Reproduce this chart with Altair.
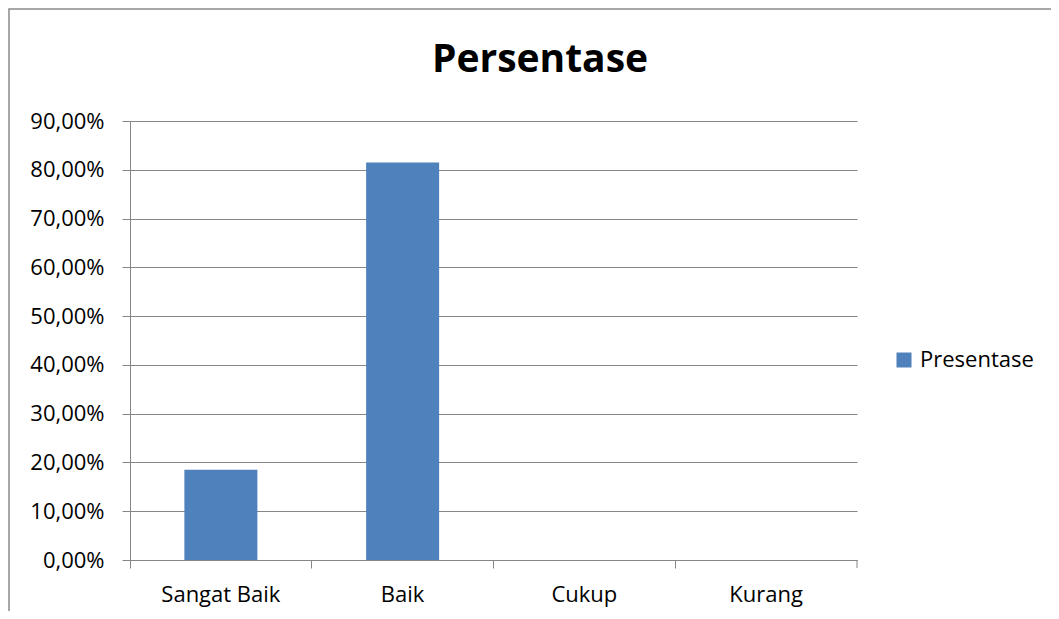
import altair as alt
import pandas as pd

categories = ["Sangat Baik", "Baik", "Cukup", "Kurang"]
values = [0.1852, 0.8148, 0.0, 0.0]
series_name = "Presentase"
title_text = "Persentase"
y_ticks = [0.0, 0.1, 0.2, 0.3, 0.4, 0.5, 0.6, 0.7, 0.8, 0.9]

df = pd.DataFrame({"kategori": categories, "nilai": values, "seri": [series_name] * len(categories)})

W, H = 727, 439
FONT = "Open Sans"
GRID = "#868686"

bars = alt.Chart(df).mark_bar(size=73).encode(
    x=alt.X("kategori:N", sort=categories,
            scale=alt.Scale(paddingInner=0, paddingOuter=0),
            axis=alt.Axis(title=None, labelAngle=0, bandPosition=0, tickSize=8,
                          labelPadding=16, labelFontSize=22, labelFont=FONT,
                          labelColor="#000000", tickColor=GRID, domainColor=GRID,
                          grid=False)),
    y=alt.Y("nilai:Q", scale=alt.Scale(domain=[0, 0.9], nice=False),
            axis=alt.Axis(title=None, values=y_ticks, tickSize=8, labelPadding=18,
                          labelFontSize=22, labelFont=FONT, labelColor="#000000",
                          labelExpr="replace(format(datum.value, '.2%'), '.', ',')",
                          tickColor=GRID, domainColor=GRID, gridColor=GRID,
                          grid=True, gridOpacity=1)),
    color=alt.Color("seri:N", scale=alt.Scale(domain=[series_name], range=["#4F81BD"]),
                    legend=alt.Legend(title=None, orient="none", legendX=763, legendY=228,
                                      symbolType="square", symbolSize=225,
                                      symbolStrokeWidth=0, labelFontSize=22,
                                      labelFont=FONT, labelColor="#000000",
                                      labelOffset=5)),
)

last_tick = alt.Chart(alt.Data(values=[{"a": 1}])).mark_rule(color=GRID, strokeWidth=1).encode(
    x=alt.value(W), y=alt.value(H), y2=alt.value(H + 8)
)

frame = alt.Chart(alt.Data(values=[{"a": 1}])).mark_rect(
    fill=None, stroke="#8a8a8a", strokeWidth=1.5, clip=False
).encode(
    x=alt.value(-121), y=alt.value(-112), x2=alt.value(1200), y2=alt.value(800)
)

title = alt.Chart(alt.Data(values=[{"t": title_text}])).mark_text(
    font=FONT, fontSize=39, fontWeight="bold", color="#000000",
    align="center", baseline="alphabetic"
).encode(text="t:N", x=alt.value(410), y=alt.value(-49))

chart = alt.layer(frame, bars, last_tick, title).properties(
    width=W, height=H,
    autosize=alt.AutoSizeParams(type="none"),
    padding={"left": 122, "top": 113, "right": 194, "bottom": 51},
).configure_view(stroke=None).configure_axis(domainWidth=1, tickWidth=1, gridWidth=1)

chart.save("out.html", embed_options={"renderer": "svg", "actions": False})
